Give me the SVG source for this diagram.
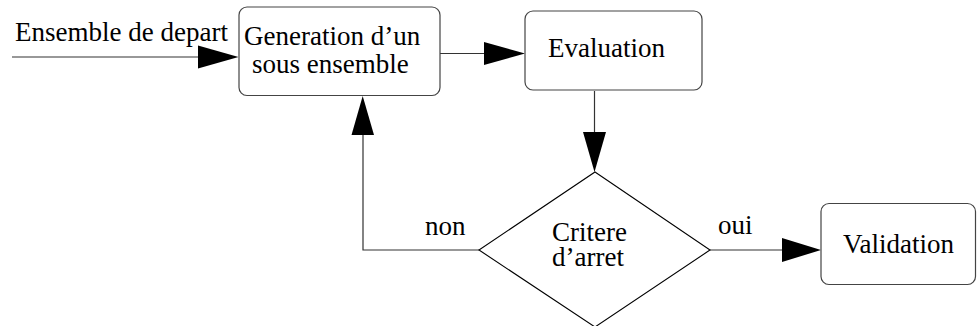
<svg xmlns="http://www.w3.org/2000/svg" width="977" height="326" viewBox="0 0 977 326">
<style>
  .box { fill: #fff; stroke: #444; stroke-width: 1.2; }
  .dia { fill: #fff; stroke: #000; stroke-width: 1.1; }
  .ln { fill: none; stroke: #333; stroke-width: 1.2; }
  .ah { fill: #000; stroke: none; }
  .t { font-family: Liberation Serif, serif; font-size: 27px; fill: #000; }
</style>
<rect width="977" height="326" fill="#fff"/>
<g id="connectors">
  <line class="ln" x1="12" y1="57" x2="200" y2="57"/>
  <polygon class="ah" points="198,45.5 238.5,57 198,68.5"/>
  <line class="ln" x1="440" y1="53.5" x2="486" y2="53.5"/>
  <polygon class="ah" points="484,42 525,53.5 484,65"/>
  <line class="ln" x1="594.5" y1="91" x2="594.5" y2="134"/>
  <polygon class="ah" points="583,132 606,132 594.5,172"/>
  <polyline class="ln" points="479,250 363,250 363,133"/>
  <polygon class="ah" points="351.5,135 374,135 362.7,96"/>
  <line class="ln" x1="710" y1="250" x2="784" y2="250"/>
  <polygon class="ah" points="782,238 821,250 782,262"/>
  <text class="t" x="425" y="235">non</text>
  <text class="t" x="718" y="234">oui</text>
  <text class="t" x="15" y="41">Ensemble de depart</text>
</g>
<g id="generation">
  <rect class="box" x="239" y="7" width="201" height="88.5" rx="8"/>
  <text class="t" x="244" y="45">Generation d’un</text>
  <text class="t" x="252" y="73">sous ensemble</text>
</g>
<g id="evaluation">
  <rect class="box" x="525" y="11" width="177" height="79" rx="8"/>
  <text class="t" x="548" y="57">Evaluation</text>
</g>
<g id="critere">
  <polygon class="dia" points="595,172 710,250 595,327 479,250"/>
  <text class="t" x="552" y="241">Critere</text>
  <text class="t" x="552" y="266">d’arret</text>
</g>
<g id="validation">
  <rect class="box" x="821" y="203.5" width="154.5" height="81" rx="8"/>
  <text class="t" x="843" y="253">Validation</text>
</g>
</svg>
